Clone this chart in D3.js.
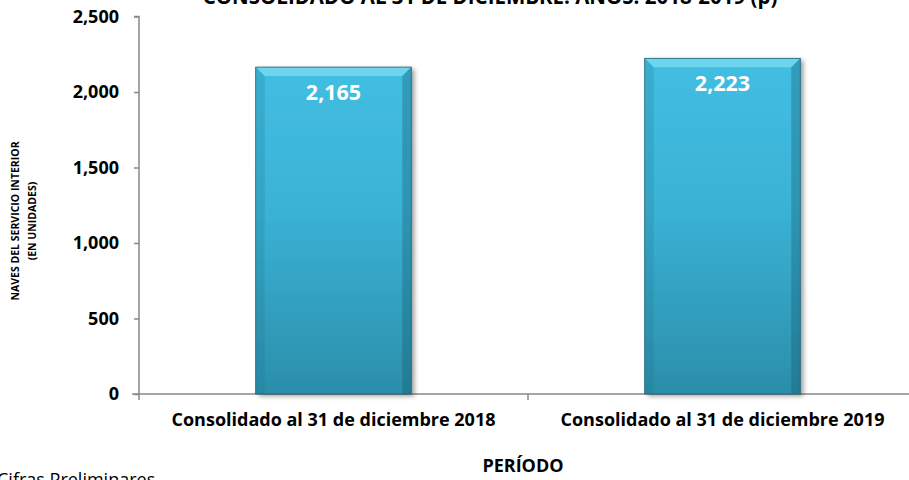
<!DOCTYPE html>
<html>
<head>
<meta charset="utf-8">
<script src="https://cdn.jsdelivr.net/npm/d3@7"></script>
<style>
  body { margin: 0; background: #fff; }
  svg text { font-family: "Open Sans", Lato, sans-serif; font-weight: bold; fill: #000; }
</style>
</head>
<body>
<div id="chart"></div>
<script>
// data
let periods = ["Consolidado al 31 de diciembre 2018", "Consolidado al 31 de diciembre 2019"];
let naves = [2165, 2223];
let yTicks = [0, 500, 1000, 1500, 2000, 2500];

let svgWidth = 909;
let svgHeight = 480;

// plot area runs a little past the right edge, like the reference
let margin = { top: 16.5, right: -8, bottom: 86, left: 139 };
let width = svgWidth - margin.left - margin.right;
let height = svgHeight - margin.top - margin.bottom;

let svg = d3.select("#chart")
  .append("svg")
  .attr("width", svgWidth)
  .attr("height", svgHeight);

// gradient for the bars
let defs = svg.append("defs");
let grad = defs.append("linearGradient")
  .attr("id", "barGrad")
  .attr("x1", 0).attr("y1", 0).attr("x2", 0).attr("y2", 1);
grad.append("stop").attr("offset", "0%").attr("stop-color", "#42bee2");
grad.append("stop").attr("offset", "45%").attr("stop-color", "#3ab2d5");
grad.append("stop").attr("offset", "100%").attr("stop-color", "#2b8eaa");

let shadow = defs.append("filter").attr("id", "shadow")
  .attr("x", "-10%").attr("y", "-10%").attr("width", "130%").attr("height", "120%");
shadow.append("feGaussianBlur").attr("in", "SourceAlpha").attr("stdDeviation", 2.5);
shadow.append("feOffset").attr("dx", 3).attr("dy", 2).attr("result", "blur");
shadow.append("feComponentTransfer").append("feFuncA").attr("type", "linear").attr("slope", 0.4);
let merge = shadow.append("feMerge");
merge.append("feMergeNode");
merge.append("feMergeNode").attr("in", "SourceGraphic");

let chartGroup = svg.append("g")
  .attr("transform", `translate(${margin.left}, ${margin.top})`);

let xScale = d3.scaleBand()
  .domain(periods)
  .range([0, width])
  .paddingInner(0.6)
  .paddingOuter(0.3);

let yScale = d3.scaleLinear()
  .domain([0, 2500])
  .range([height, 0]);

// y axis
let leftAxis = d3.axisLeft(yScale)
  .tickValues(yTicks)
  .tickSize(5)
  .tickPadding(15)
  .tickFormat(d3.format(","));
let yAxis = chartGroup.append("g").call(leftAxis);
yAxis.select(".domain").attr("stroke", "#888").attr("stroke-width", 1.5)
  .attr("d", `M-5,0H0V${height}`);
yAxis.selectAll(".tick line").attr("stroke", "#888").attr("stroke-width", 1.5);
yAxis.selectAll(".tick text")
  .attr("font-size", 18)
  .style("font-family", "'Open Sans', sans-serif")
  .style("font-weight", "bold");

// x axis
let xAxis = chartGroup.append("g")
  .attr("transform", `translate(0, ${height})`);
xAxis.append("line")
  .attr("x1", -7).attr("x2", width)
  .attr("stroke", "#888").attr("stroke-width", 1.5);
xAxis.selectAll(".div")
  .data([0, 1])
  .enter()
  .append("line")
  .attr("x1", i => i * xScale.step()).attr("x2", i => i * xScale.step())
  .attr("y1", 0).attr("y2", 6)
  .attr("stroke", "#888").attr("stroke-width", 1.5);

xAxis.selectAll(".cat")
  .data(periods)
  .enter()
  .append("text")
  .attr("x", d => xScale(d) + xScale.bandwidth() / 2)
  .attr("y", 32)
  .attr("text-anchor", "middle")
  .attr("font-size", 18)
  .text(d => d);

// bars
let bars = chartGroup.selectAll(".bar")
  .data(naves)
  .enter()
  .append("g")
  .attr("class", "bar");

bars.append("rect")
  .attr("x", (d, i) => xScale(periods[i]))
  .attr("y", d => yScale(d))
  .attr("width", xScale.bandwidth())
  .attr("height", d => height - yScale(d))
  .attr("fill", "url(#barGrad)")
  .attr("filter", "url(#shadow)");

// bevel edges
let bev = 9;
bars.append("path")
  .attr("d", (d, i) => {
    let x0 = xScale(periods[i]), x1 = x0 + xScale.bandwidth(), y0 = yScale(d);
    return `M${x0},${y0}L${x1},${y0}L${x1 - bev},${y0 + bev}L${x0 + bev},${y0 + bev}Z`;
  })
  .attr("fill", "#7fdcf2").attr("opacity", 0.75);
bars.append("path")
  .attr("d", (d, i) => {
    let x0 = xScale(periods[i]), y0 = yScale(d);
    return `M${x0},${y0}L${x0 + bev},${y0 + bev}L${x0 + bev},${height}L${x0},${height}Z`;
  })
  .attr("fill", "#1f6f86").attr("opacity", 0.2);
bars.append("path")
  .attr("d", (d, i) => {
    let x1 = xScale(periods[i]) + xScale.bandwidth(), y0 = yScale(d);
    return `M${x1},${y0}L${x1 - bev},${y0 + bev}L${x1 - bev},${height}L${x1},${height}Z`;
  })
  .attr("fill", "#124e60").attr("opacity", 0.3);
bars.append("rect")
  .attr("x", (d, i) => xScale(periods[i]))
  .attr("y", d => yScale(d))
  .attr("width", xScale.bandwidth())
  .attr("height", d => height - yScale(d))
  .attr("fill", "none")
  .attr("stroke", "#1d6276").attr("stroke-width", 0.8);

bars.append("text")
  .attr("x", (d, i) => xScale(periods[i]) + xScale.bandwidth() / 2)
  .attr("y", d => yScale(d) + 33)
  .attr("text-anchor", "middle")
  .attr("font-size", 21.5)
  .style("fill", "#fff")
  .text(d => d3.format(",")(d));

// titles
svg.append("text")
  .attr("x", 490)
  .attr("y", 4)
  .attr("text-anchor", "middle")
  .attr("font-size", 20.5)
  .text("CONSOLIDADO AL 31 DE DICIEMBRE: AÑOS: 2018-2019 (p)");

svg.append("text")
  .attr("x", 523)
  .attr("y", 472)
  .attr("text-anchor", "middle")
  .attr("font-size", 18)
  .text("PERÍODO");

svg.append("text")
  .attr("transform", "translate(19, 221) rotate(-90)")
  .attr("text-anchor", "middle")
  .attr("font-size", 10.5)
  .text("NAVES DEL SERVICIO INTERIOR");
svg.append("text")
  .attr("transform", "translate(36, 221) rotate(-90)")
  .attr("text-anchor", "middle")
  .attr("font-size", 10.5)
  .text("(EN UNIDADES)");

svg.append("text")
  .attr("x", -3)
  .attr("y", 486)
  .attr("font-size", 18)
  .style("font-weight", "normal")
  .text("Cifras Preliminares");
</script>
</body>
</html>
